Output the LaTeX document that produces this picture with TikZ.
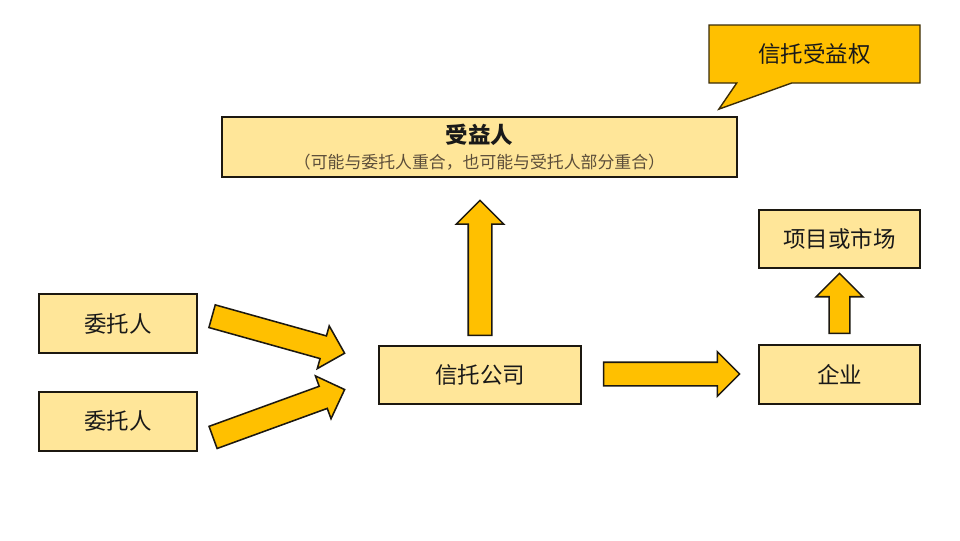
\documentclass[tikz,border=0pt]{standalone}
\usepackage{fontspec}
\usepackage{tikz}
\usetikzlibrary{shapes.arrows, shapes.callouts, positioning, calc}
\newfontfamily\cjk{Noto Sans CJK SC}
\definecolor{Box_Cream}{HTML}{FFE699}
\definecolor{Arrow_Gold}{HTML}{FFC000}
\definecolor{Edge_Dark}{HTML}{1C1810}
\definecolor{Note_Brown}{HTML}{3A2C08}
\definecolor{Sub_Grey}{HTML}{5C4E3A}

\begin{document}
\begin{tikzpicture}[x=0.25mm, y=-0.25mm,
    box/.style={draw=Edge_Dark, line width=1.2pt, fill=Box_Cream, text=black!90, font=\cjk\fontsize{16}{19}\selectfont},
    bigarrow/.style={single arrow, draw=Edge_Dark, line width=1.1pt, fill=Arrow_Gold, inner sep=2.75mm, single arrow head extend=3mm, single arrow head indent=0pt, anchor=tail}]
    \useasboundingbox (0,0) rectangle (960,540);

    % boxes
    \node (wt1) [box, minimum width=39.5mm, minimum height=14.75mm] at (118,323.5) {委托人};
    \node (wt2) [box, minimum width=39.5mm, minimum height=14.75mm, below=9.25mm of wt1] {委托人};
    \node (tc) [box, minimum width=50.5mm, minimum height=14.5mm] at (480,375) {信托公司};
    \node (syr) [box, minimum width=128.75mm, minimum height=15mm, align=center] at (479.5,147)
        {{\bfseries 受益人}\\[-1pt]{\fontsize{12}{14}\selectfont\color{Sub_Grey}（可能与委托人重合，也可能与受托人部分重合）}};
    \node (qy) [box, minimum width=40.25mm, minimum height=14.75mm] at (839.5,374.5) {企业};
    \node (xm) [box, minimum width=40.25mm, minimum height=14.5mm, above=18.75mm of qy] {项目或市场};

    % callout
    \node (note) [rectangle callout, draw=Note_Brown, line width=1pt, fill=Arrow_Gold, text=black!90,
        font=\cjk\fontsize{16}{19}\selectfont, minimum width=52.75mm, minimum height=14.5mm,
        callout absolute pointer={($(syr.north east)+(-19,-7)$)}, callout pointer width=13.75mm]
        at (814.5,54) {信托受益权};

    % block arrows
    \node (a1) [bigarrow, rotate=-15.6, minimum height=34.4mm, single arrow head extend=2.6mm] at ($(wt1.east)+(13.5,-7.5)$) {};
    \node (a2) [bigarrow, rotate=20, minimum height=35mm, single arrow head extend=2.75mm] at ($(wt2.east)+(14.5,16.5)$) {};
    \node (a3) [bigarrow, rotate=90, minimum height=33.75mm] at ($(tc.north)+(0,-9)$) {};
    \node (a4) [bigarrow, minimum height=34mm, single arrow head extend=2.6mm] at ($(tc.east)+(21,-1)$) {};
    \node (a5) [bigarrow, rotate=90, minimum height=15mm, inner sep=2.4mm, single arrow head extend=3.25mm] at ($(qy.north)+(0,-10)$) {};
\end{tikzpicture}
\end{document}
